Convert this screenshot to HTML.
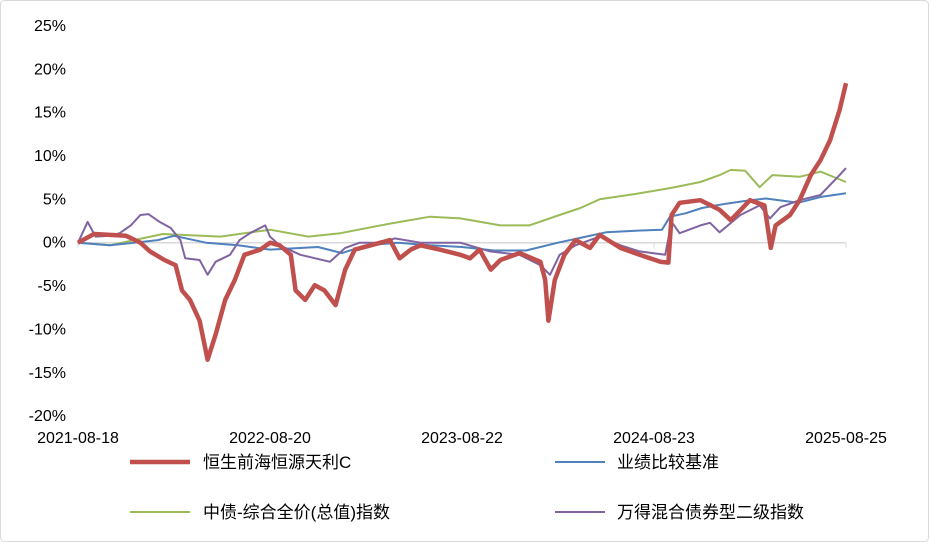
<!DOCTYPE html>
<html><head><meta charset="utf-8"><style>
body{margin:0;background:#fff;}
svg{display:block;font-family:"Liberation Sans","Noto Sans CJK SC",sans-serif;}
</style></head><body>
<svg id="chart" width="929" height="542" viewBox="0 0 929 542" xmlns="http://www.w3.org/2000/svg">
<rect x="0.5" y="0.5" width="928" height="541" rx="4" fill="#fff" stroke="#d9d9d9"/>
<g id="yaxis"></g>
<g id="xaxis"></g>
<g id="series"></g>
<g font-size="17" fill="#000">
 <g><line x1="130" y1="462" x2="190" y2="462" stroke="#c0504d" stroke-width="4.5"/><text x="203" y="468">恒生前海恒源天利C</text></g>
 <g><line x1="555" y1="462" x2="605" y2="462" stroke="#4f81bd" stroke-width="2"/><text x="617" y="468">业绩比较基准</text></g>
 <g><line x1="130" y1="512" x2="190" y2="512" stroke="#9bbb59" stroke-width="2"/><text x="203" y="518">中债-综合全价(总值)指数</text></g>
 <g><line x1="555" y1="512" x2="605" y2="512" stroke="#8064a2" stroke-width="2"/><text x="617" y="518">万得混合债券型二级指数</text></g>
</g>
</svg>
<script>
const yTicks=[25,20,15,10,5,0,-5,-10,-15,-20];
const xLabels=["2021-08-18","2022-08-20","2023-08-22","2024-08-23","2025-08-25"];
const xLabelMonths=[0,12,24,36,48];
const fundM=[0,1,2,3,3.9,4.5,5.4,6.1,6.5,7,7.6,8.1,8.6,9.2,9.8,10.4,11.4,12,12.6,13.3,13.6,14.2,14.8,15.4,16.1,16.7,17.3,18.3,19.5,20.1,20.8,21.4,22.6,23.9,24.5,25.1,25.8,26.4,27.6,28.9,29.2,29.4,29.8,30.4,31.1,32,32.6,33.9,35.1,36.4,36.9,37.1,37.6,38.9,40.1,40.8,42,42.9,43.3,43.6,44.5,45.1,45.8,46.4,47,47.6,48];
const fundV=[0,1,0.9,0.8,0,-1,-2,-2.6,-5.5,-6.6,-9,-13.5,-10.6,-6.6,-4.3,-1.4,-0.8,0,-0.3,-1.4,-5.5,-6.6,-4.9,-5.5,-7.2,-3.1,-0.8,-0.3,0.3,-1.8,-0.8,-0.3,-0.8,-1.4,-1.8,-0.8,-3.1,-2,-1.2,-2.2,-4.3,-9,-4.3,-1.4,0.3,-0.6,0.9,-0.6,-1.4,-2.2,-2.3,3.2,4.6,4.9,3.8,2.6,4.9,4.3,-0.6,2,3.2,4.9,7.8,9.5,11.8,15.3,18.4];
const benchM=[0,2,5,6,8,10,12,15,16.5,18,20,22,24,26,28,30,31.5,33,35,36.5,37,38,39,40.5,42,43,45,46.5,48];
const benchV=[0,-0.3,0.3,0.8,0,-0.3,-0.8,-0.5,-1.2,-0.3,0,-0.3,-0.5,-0.9,-0.9,0,0.6,1.2,1.4,1.5,3.0,3.4,4.0,4.5,4.9,5.1,4.6,5.3,5.7];
const bondM=[0,2,5.3,8.9,12,14.4,16.4,19.5,22,23.9,26.4,28.2,30.1,31.4,32.6,35.1,37,38.9,40.1,40.8,41.7,42.6,43.4,45.1,46.4,48];
const bondV=[0,-0.3,1.0,0.7,1.5,0.7,1.1,2.2,3,2.8,2,2,3.2,4,5,5.7,6.3,7,7.8,8.4,8.3,6.4,7.8,7.6,8.2,7.0];
const mixM=[0,0.6,1.1,2,2.6,3.3,3.9,4.4,5.1,5.8,6.4,6.7,7.6,8.1,8.6,9.5,10.1,10.75,11.7,12,12.6,13.9,15.75,16.7,17.6,18.9,19.8,21.4,23.9,25.75,27.6,28.9,29.5,30.1,31.1,32.6,33.9,35.1,36.7,37.1,37.6,38.9,39.5,40.1,41.4,42.6,43.25,43.9,45.1,46.4,47.6,48];
const mixV=[0,2.4,0.7,0.8,1.1,2,3.2,3.3,2.4,1.7,0.3,-1.8,-2,-3.7,-2.2,-1.4,0.3,1.1,2,0.7,-0.3,-1.4,-2.2,-0.6,0,0,0.5,0,0,-1,-1.4,-2.6,-3.7,-1.4,-0.3,0.7,-0.3,-1,-1.4,2.4,1.1,2,2.3,1.2,3.2,4.3,2.8,4.1,4.9,5.5,7.8,8.6];

const NS="http://www.w3.org/2000/svg";
const X=m=>78+m*16;
const Y=v=>242.7-v*8.67;
function mk(tag,attrs,parent){const e=document.createElementNS(NS,tag);for(const k in attrs)e.setAttribute(k,attrs[k]);parent.appendChild(e);return e;}
const ya=document.getElementById('yaxis'),xa=document.getElementById('xaxis'),sg=document.getElementById('series');
yTicks.forEach(t=>{const e=mk('text',{x:66,y:Y(t)+5,'text-anchor':'end','font-size':'16',fill:'#000'},ya);e.textContent=t+'%';

});
const base=mk('line',{x1:X(0),x2:X(48),y1:Y(0),y2:Y(0),stroke:'#d9d9d9','stroke-width':1.5},xa);


xLabels.forEach((l,i)=>{const x=X(xLabelMonths[i]);
const tk=mk('line',{x1:x,x2:x,y1:Y(0),y2:Y(0)+5,stroke:'#d9d9d9'},xa);


const e=mk('text',{x:x,y:443,'text-anchor':'middle','font-size':'16',fill:'#000'},xa);e.textContent=l;

});
function line(ms,vs,color,w,name){const d=ms.map((m,i)=>(i?'L':'M')+X(m).toFixed(1)+' '+Y(vs[i]).toFixed(1)).join(' ');
const p=mk('path',{d:d,fill:'none',stroke:color,'stroke-width':w,'stroke-linejoin':'round'},sg);

}
line(bondM,bondV,'#9bbb59',2,'series-bond-index');
line(benchM,benchV,'#4f81bd',2,'series-benchmark');
line(mixM,mixV,'#8064a2',2,'series-mixed-bond-index');
line(fundM,fundV,'#c0504d',4.5,'series-fund');
</script>
</body></html>
